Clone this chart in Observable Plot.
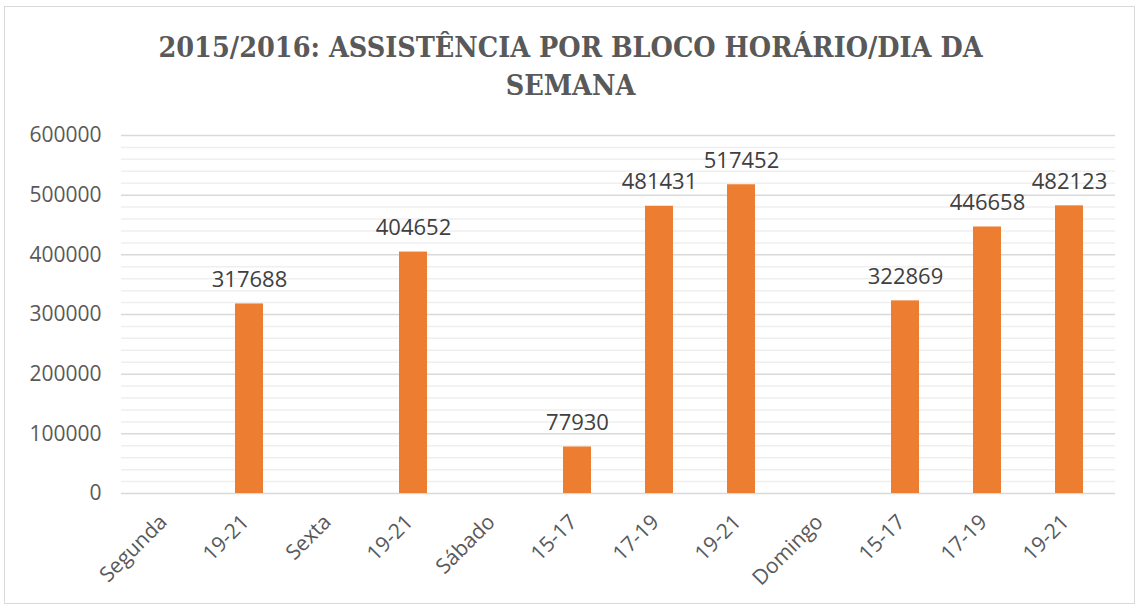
<!DOCTYPE html>
<html><head><meta charset="utf-8">
<script src="https://cdn.jsdelivr.net/npm/d3@7"></script>
<script src="https://cdn.jsdelivr.net/npm/@observablehq/plot@0.6"></script>
<style>
body{margin:0;background:#fff;}
#wrap{position:relative;width:1141px;height:607px;overflow:hidden;}
#frame{position:absolute;left:4px;top:6px;width:1131px;height:598px;border:1px solid #d9d9d9;box-sizing:border-box;}
#title{position:absolute;left:0;top:0;width:1141px;height:110px;text-align:center;font-family:"DejaVu Serif Condensed","DejaVu Serif",serif;font-weight:bold;font-size:28.5px;line-height:38px;color:#595959;padding-top:28px;box-sizing:border-box;}
#chart{position:absolute;left:0;top:110px;}
</style></head>
<body><div id="wrap"><div id="frame"></div><div id="title">2015/2016: ASSISTÊNCIA POR BLOCO HORÁRIO/DIA DA<br>SEMANA</div><div id="chart"></div></div>
<script>
const labels = ["Segunda","19-21","Sexta","19-21","Sábado","15-17","17-19","19-21","Domingo","15-17","17-19","19-21"];
const values = [null,317688,null,404652,null,77930,481431,517452,null,322869,446658,482123];
const yTicks = [0,100000,200000,300000,400000,500000,600000];
const minorTicks = d3.range(0,600001,20000).filter(v => v % 100000 !== 0);

const data = labels.map((l,i)=>({i, label:l, value:values[i]}));
const bars = data.filter(d=>d.value!=null);
const font = "'Open Sans', 'Noto Sans', sans-serif";

const plot = Plot.plot({
  width:1141, height:497,
  marginLeft:121, marginRight:26, marginTop:25, marginBottom:114,
  style:{fontFamily:font, color:"#595959", background:"transparent"},
  x:{type:"band", domain:d3.range(labels.length), paddingInner:0.662, paddingOuter:0.331, axis:null},
  y:{domain:[0,600000], axis:null},
  marks:[
    Plot.ruleY(minorTicks,{stroke:"#efefef", strokeWidth:1.5}),
    Plot.ruleY(yTicks,{stroke:"#d9d9d9", strokeWidth:1.5}),
    Plot.barY(bars,{x:"i", y:"value", fill:"#ED7D31"}),
    Plot.text(bars,{x:"i", y:"value", text:d=>String(d.value), dy:-24, fontSize:22, fill:"#404040", fontFamily:font}),
    Plot.axisY({ticks:yTicks, tickSize:0, tickPadding:20, tickFormat:d=>String(d), fontSize:21, fill:"#595959", label:null}),
    Plot.axisX({tickSize:0, tickPadding:22, tickRotate:-45, tickFormat:i=>labels[i], fontSize:21, fill:"#595959", label:null, dx:-4, dy:3})
  ]
});
document.getElementById("chart").appendChild(plot);
</script></body></html>
